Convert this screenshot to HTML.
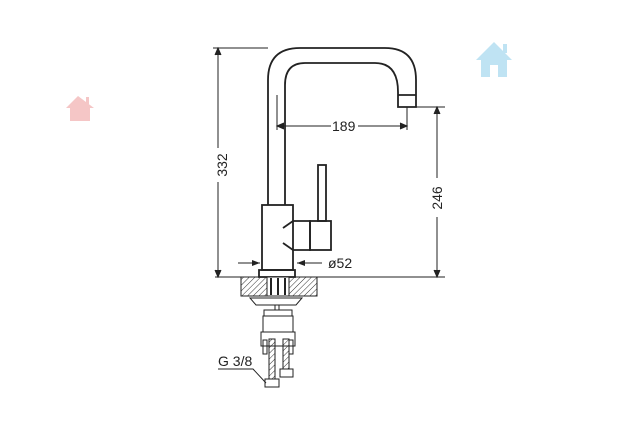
<!DOCTYPE html><html><head><style>body{margin:0;background:#fff}</style></head><body>
<svg width="630" height="420" xmlns="http://www.w3.org/2000/svg" font-family="Liberation Sans, sans-serif">
<defs><pattern id="h" width="4" height="4" patternUnits="userSpaceOnUse" patternTransform="rotate(45)"><line x1="0" y1="0" x2="0" y2="4" stroke="#333" stroke-width="1"/></pattern>
<marker id="a" markerWidth="8" markerHeight="6" refX="8" refY="3" orient="auto"><path d="M0,0L8,3L0,6z" fill="#222"/></marker></defs>
<g fill="none" stroke="#222" stroke-width="1.8">
<path d="M268,205V80Q268,48 300,48H385Q416,48 416,80V107H398V92Q398,63 375,63H305Q285,63 285,85V205"/>
<line x1="398" y1="95" x2="416" y2="95"/>
<rect x="262" y="205" width="31" height="65"/>
<path d="M283,228L293,221H310V250H293L283,243"/>
<rect x="310" y="221" width="21" height="29"/>
<rect x="318" y="165" width="8" height="56"/>
<rect x="259" y="270" width="36" height="7"/>
</g>
<g stroke="#222" stroke-width="1" fill="none">
<line x1="213" y1="48" x2="268" y2="48"/>
<line x1="218" y1="48" x2="218" y2="148"/><line x1="218" y1="182" x2="218" y2="277"/>
<path d="M215,55L218,48L221,55M215,270L218,277L221,270" fill="#222"/>
<line x1="215" y1="277" x2="445" y2="277"/>
<line x1="410" y1="107" x2="445" y2="107"/>
<line x1="437" y1="107" x2="437" y2="178"/><line x1="437" y1="217" x2="437" y2="277"/>
<path d="M434,114L437,107L440,114M434,270L437,277L440,270" fill="#222"/>
<line x1="277" y1="95" x2="277" y2="130"/><line x1="407" y1="107" x2="407" y2="130"/>
<line x1="277" y1="126" x2="331" y2="126"/><line x1="358" y1="126" x2="407" y2="126"/>
<path d="M284,123L277,126L284,129M400,123L407,126L400,129" fill="#222"/>
<line x1="238" y1="263" x2="260" y2="263" marker-end="url(#a)"/>
<line x1="322" y1="263" x2="297" y2="263" marker-end="url(#a)"/>
<line x1="262" y1="258" x2="262" y2="270"/><line x1="293" y1="258" x2="293" y2="270"/>
</g>
<g font-size="14" fill="#222">
<text x="332" y="131">189</text>
<text x="328" y="268">ø52</text>
<text transform="translate(227,165) rotate(-90)" text-anchor="middle">332</text>
<text transform="translate(442,198) rotate(-90)" text-anchor="middle">246</text>
<text x="218" y="366">G 3/8</text>
</g>
<rect x="241" y="277" width="76" height="19" fill="url(#h)" stroke="#222"/>
<rect x="267" y="277" width="22" height="19" fill="#fff" stroke="#222"/>
<g stroke="#222" fill="none" stroke-width="1">
<line x1="271" y1="278" x2="271" y2="295" stroke-width="2"/><line x1="278" y1="278" x2="278" y2="295" stroke-width="2"/><line x1="285" y1="278" x2="285" y2="295" stroke-width="2"/>
<path d="M250,298H302L296,305H256Z"/>
<line x1="275" y1="305" x2="275" y2="310"/><line x1="279" y1="305" x2="279" y2="310"/>
<rect x="264" y="310" width="28" height="6"/>
<rect x="263" y="316" width="30" height="16"/>
<rect x="261" y="332" width="34" height="14"/>
<rect x="263" y="340" width="4" height="14"/><rect x="289" y="340" width="4" height="14"/>
<rect x="269" y="339" width="6" height="40" fill="url(#h)"/>
<rect x="283" y="339" width="6" height="30" fill="url(#h)"/>
<rect x="265" y="379" width="14" height="8"/><rect x="280" y="369" width="13" height="8"/>
<path d="M218,369H253L266,383"/>
</g>
<g fill="#f5c6c6"><path d="M78,96L66,108H70V121H90V108H94Z"/><rect x="86" y="97" width="3" height="7"/></g>
<g fill="#bfe3f3"><path d="M494,42L476,60H481V77H507V60H512Z"/><rect x="503" y="44" width="4" height="9"/></g>
<rect x="490" y="65" width="8" height="12" fill="#fff"/>
</svg></body></html>
